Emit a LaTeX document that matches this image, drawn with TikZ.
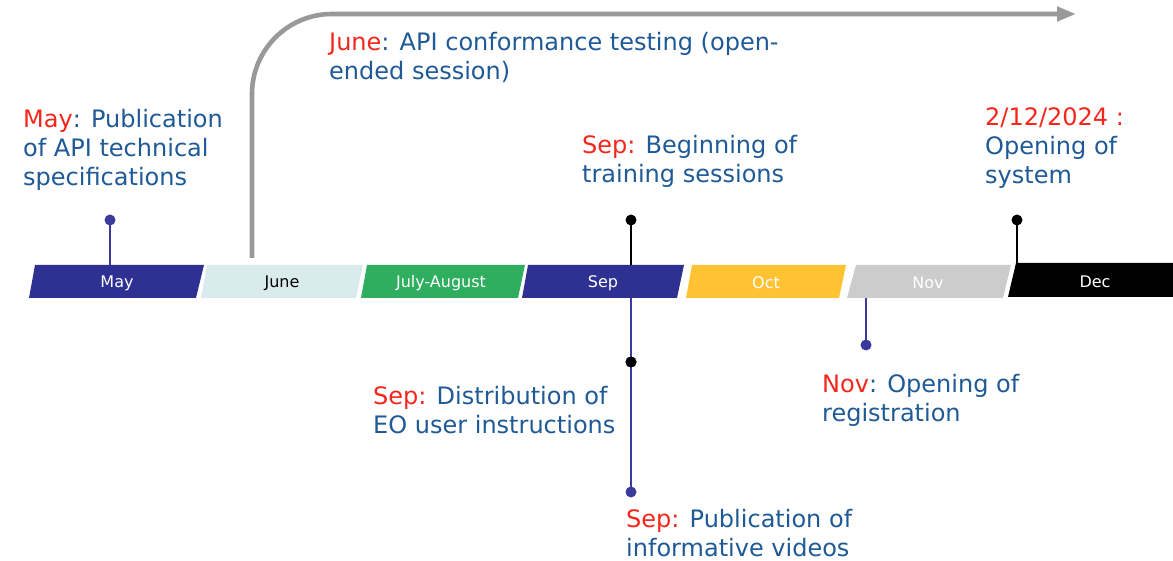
\documentclass[tikz,border=0pt]{standalone}
\usepackage{fontspec}
\setmainfont{DejaVu Sans}
\usetikzlibrary{arrows.meta}
\definecolor{navy}{HTML}{2E3192}
\definecolor{pinblue}{HTML}{3B3B9E}
\definecolor{icejune}{HTML}{DAEBED}
\definecolor{greenjul}{HTML}{2EAE5E}
\definecolor{amberoct}{HTML}{FFC233}
\definecolor{greynov}{HTML}{CCCCCC}
\definecolor{txtblue}{HTML}{1F5A96}
\definecolor{txtred}{HTML}{F5261B}
\definecolor{arrowgrey}{HTML}{999999}
\tikzset{
  barlbl/.style={font=\fontsize{16}{18}\selectfont, inner sep=0pt, anchor=center},
  evtext/.style={font=\fontsize{24}{29}\selectfont, text=txtblue, align=left, inner sep=0pt, anchor=base west},
  navydot/.style={circle, fill=pinblue, inner sep=0pt, minimum size=11pt},
  blackdot/.style={circle, fill=black, inner sep=0pt, minimum size=11pt},
  navypin/.style={draw=pinblue, line width=1.6pt},
  blackpin/.style={draw=black, line width=1.8pt},
}
\newcommand{\hl}[1]{\textcolor{txtred}{#1}}
\begin{document}
\begin{tikzpicture}[x=1pt, y=-1pt]
\useasboundingbox (0,0) rectangle (1173,561);
\fill[white] (0,0) rectangle (1173,561);

% month bars
\fill[navy]     (29,298)  -- (35,265)  -- (204,265)  -- (196,298)  -- cycle;
\fill[icejune]  (201,298) -- (207,265) -- (363,265)  -- (356,298)  -- cycle;
\fill[greenjul] (361,298) -- (367,265) -- (525,265)  -- (518,298)  -- cycle;
\fill[navy]     (522,298) -- (528,265) -- (684,265)  -- (677,298)  -- cycle;
\fill[amberoct] (686,298) -- (692,265) -- (846,265)  -- (839,298)  -- cycle;
\fill[greynov]  (847,298) -- (856,265) -- (1011,265) -- (1003,298) -- cycle;
\fill[black]    (1008,297) -- (1016,263) -- (1173,263) -- (1173,297) -- cycle;

\node[barlbl, text=white] (mMay) at (117,283) {May};
\node[barlbl, text=black] (mJun) at (282,283) {June};
\node[barlbl, text=white] (mJul) at (441,283) {July-August};
\node[barlbl, text=white] (mSep) at (603,283) {Sep};
\node[barlbl, text=white] (mOct) at (766,283) {Oct};
\node[barlbl, text=white] (mNov) at (928,283) {Nov};
\node[barlbl, text=white] (mDec) at (1095,282) {Dec};

% anchor points on the bar edges
\coordinate (tMay) at (110,265);
\coordinate (tJun) at (252,258);
\coordinate (tSep) at (631,265);
\coordinate (bSep) at (631,298);
\coordinate (bNov) at (866,298);
\coordinate (tDec) at (1017,263);
\coordinate (arrowEnd) at (1076,14);

% pins
\node[navydot]  (pMay)  at (110,220) {};
\node[blackdot] (pSepA) at (631,220) {};
\node[blackdot] (pSepB) at (631,362) {};
\node[navydot]  (pSepC) at (631,492) {};
\node[navydot]  (pNov)  at (866,345) {};
\node[blackdot] (pDec)  at (1017,220) {};

\draw[navypin]  (pMay.center) -- (tMay);
\draw[blackpin] (pSepA.center) -- (tSep);
\draw[navypin]  (bSep) -- (pSepC.center);
\draw[navypin]  (bNov) -- (pNov.center);
\draw[blackpin] (pDec.center) -- (tDec);
\node[blackdot] at (pSepB) {};

% open-ended conformance testing arrow
\draw[arrowgrey, line width=4.6pt, rounded corners=80pt,
      -{Triangle[length=19pt, width=14pt]}] (tJun) |- (arrowEnd);

% event descriptions (positioned by the baseline of their last line)
\node[evtext] (eMay) at (23,186)
  {\hl{May}: Publication\\of API technical\\specifications};
\node[evtext] (eJun) at (329,80)
  {\hl{June}: API conformance testing (open-\\ended session)};
\node[evtext] (eSepA) at (582,183)
  {\hl{Sep:} Beginning of\\training sessions};
\node[evtext] (eDec) at (985,184)
  {\hl{2/12/2024 :}\\Opening of\\system};
\node[evtext] (eSepB) at (373,433)
  {\hl{Sep:} Distribution of\\EO user instructions};
\node[evtext] (eNov) at (822,421)
  {\hl{Nov}: Opening of\\registration};
\node[evtext] (eSepC) at (626,556)
  {\hl{Sep:} Publication of\\informative videos};
\end{tikzpicture}
\end{document}
